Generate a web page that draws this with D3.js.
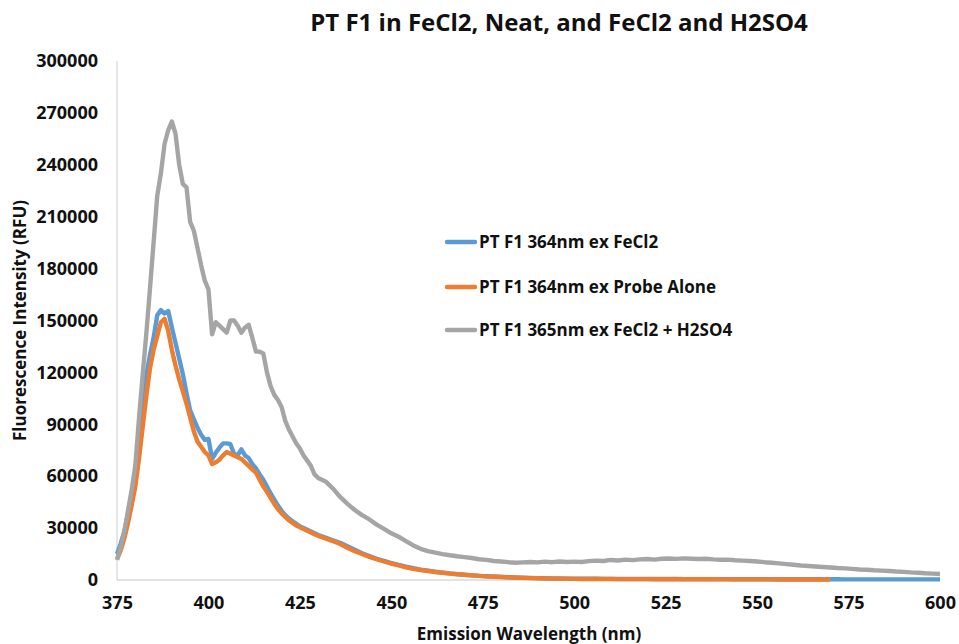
<!DOCTYPE html>
<html>
<head>
<meta charset="utf-8">
<script src="https://cdn.jsdelivr.net/npm/d3@7"></script>
<style>
  html, body { margin: 0; padding: 0; background: #fff; }
  svg { display: block; }
  text { font-family: "Open Sans", "Liberation Sans", sans-serif; font-weight: bold; fill: #111; }
</style>
</head>
<body>
<svg id="chart" width="959" height="644"></svg>
<script>
// ---------------- DATA ----------------
const title = "PT F1 in FeCl2, Neat, and FeCl2 and H2SO4";
const xTitle = "Emission Wavelength (nm)";
const yTitle = "Fluorescence Intensity (RFU)";
const seriesNames = ["PT F1 364nm ex FeCl2", "PT F1 364nm ex Probe Alone", "PT F1 365nm ex FeCl2 + H2SO4"];
const seriesColors = ["#5B9BD5", "#ED7D31", "#A5A5A5"];
const xTicks = [375, 400, 425, 450, 475, 500, 525, 550, 575, 600];
const yTicks = [0, 30000, 60000, 90000, 120000, 150000, 180000, 210000, 240000, 270000, 300000];

// wavelengths (nm): 1 nm steps 375-430, then 2 nm steps to 600
const wavelength = [
  375,376,377,378,379,380,381,382,383,384,385,386,387,388,389,390,391,392,393,394,
  395,396,397,398,399,400,401,402,403,404,405,406,407,408,409,410,411,412,413,414,
  415,416,417,418,419,420,421,422,423,424,425,426,427,428,429,430,
  432,434,436,438,440,442,444,446,448,450,452,454,456,458,460,462,464,466,468,470,
  472,474,476,478,480,482,484,486,488,490,492,494,496,498,500,502,504,506,508,510,
  512,514,516,518,520,522,524,526,528,530,532,534,536,538,540,542,544,546,548,550,
  552,554,556,558,560,562,564,566,568,570,572,574,576,578,580,582,584,586,588,590,
  592,594,596,598,600
];

const feCl2 = [
  15000,21000,28000,38000,50000,62000,80000,100000,118000,130000,140000,153000,156000,154000,155500,146000,137000,128000,119000,108000,
  98000,93000,88000,84000,81000,81500,70000,73500,76500,79000,79000,78500,73000,72000,75500,72000,70500,67000,64500,61000,
  58000,54000,50000,46500,43000,40000,37500,35500,34000,32500,31000,30000,29000,28000,27000,26000,
  24500,23000,21500,19500,17500,15500,13800,12200,11000,9800,8700,7700,6800,6000,5400,4800,4300,3800,3400,3000,
  2700,2400,2200,2000,1800,1600,1450,1300,1200,1100,1000,900,850,800,750,720,700,680,660,640,
  620,610,600,590,580,570,560,550,540,530,520,510,500,500,490,480,470,460,450,450,
  440,440,430,430,420,420,410,410,400,400,400,390,390,390,380,380,380,370,370,370,
  360,360,360,350,350
];

const probeAlone = [
  12000,17000,24000,33000,43000,54000,70000,88000,106000,122000,133000,141000,149000,151000,144000,133000,124000,116000,109000,102000,
  94000,86000,80000,77000,74000,72000,67000,68000,69500,72000,74000,73000,72000,71000,70000,68000,66000,64000,62000,58000,
  54000,51000,47500,44000,41000,38500,36500,34500,33000,31500,30500,29500,28500,27500,26500,25500,
  24000,22500,20800,18600,16600,15000,13400,12000,10700,9500,8400,7300,6400,5800,5200,4600,4200,3700,3300,3000,
  2700,2400,2100,1900,1700,1500,1350,1200,1100,1000,900,820,760,700,650,620,600,580,560,540,
  520,510,500,490,480,470,460,450,440,430,420,410,400,400,390,380,370,360,350,350,
  340,340,330,330,320,320,310,310,300,300,null,null,null,null,null,null,null,null,null,null,
  null,null,null,null,null
];

const feCl2H2SO4 = [
  11600,19000,28000,40000,52000,66000,93000,118000,142000,168000,195000,222000,235000,252000,260000,265000,258000,240000,229000,227000,
  207000,202000,192000,182000,173000,168000,142000,149000,147000,145000,143000,150000,150000,147000,143000,146000,147500,140000,132000,132000,
  131000,120000,112000,107000,104000,100000,92000,87000,83000,79000,76000,72000,69000,66000,61000,59000,
  57000,53000,48000,44000,40500,37500,35000,32000,29500,27000,25000,22500,20000,18000,16700,15800,15000,14300,13700,13200,
  12700,12000,11600,11000,10700,10300,10000,10200,10400,10200,10600,10300,10700,10400,10600,10400,10900,11200,11000,11600,
  11300,11800,11500,11900,12100,11800,12300,12400,12200,12500,12300,12100,12300,11900,11700,11800,11400,11200,11000,10700,
  10300,10000,9600,9200,8800,8400,8100,7800,7500,7200,6900,6700,6400,6100,5900,5600,5400,5200,4900,4700,
  4400,4200,3900,3700,3500
];

// ---------------- LAYOUT ----------------
const svg = d3.select("#chart");
const margin = { left: 117, right: 19, top: 61, bottom: 64 };
const W = 959, H = 644;

const x = d3.scaleLinear().domain([375, 600]).range([margin.left, W - margin.right]);
const y = d3.scaleLinear().domain([0, 300000]).range([H - margin.bottom, margin.top]);

// axis lines
svg.append("line")
  .attr("x1", x(375)).attr("x2", x(375))
  .attr("y1", y(300000)).attr("y2", y(0))
  .attr("stroke", "#D9D9D9").attr("stroke-width", 1.3);
svg.append("line")
  .attr("x1", x(375)).attr("x2", x(600))
  .attr("y1", y(0)).attr("y2", y(0))
  .attr("stroke", "#D9D9D9").attr("stroke-width", 1.3);

// Y axis (labels only)
const yAxis = d3.axisLeft(y).tickValues(yTicks).tickSize(0).tickPadding(19).tickFormat(d3.format("d"));
const gy = svg.append("g").attr("transform", `translate(${x(375)},0)`).call(yAxis);
gy.select(".domain").remove();
gy.selectAll("text").style("font-size", "18px").style("font-family", "'Open Sans', sans-serif").style("font-weight", "bold").attr("fill", "#111");

// X axis (labels only)
const xAxis = d3.axisBottom(x).tickValues(xTicks).tickSize(0).tickPadding(16).tickFormat(d3.format("d"));
const gx = svg.append("g").attr("transform", `translate(0,${y(0)})`).call(xAxis);
gx.select(".domain").remove();
gx.selectAll("text").style("font-size", "18px").style("font-family", "'Open Sans', sans-serif").style("font-weight", "bold").attr("fill", "#111");

// Lines
const allSeries = [feCl2, probeAlone, feCl2H2SO4];
const line = d3.line()
  .defined(d => d[1] != null)
  .x(d => x(d[0]))
  .y(d => y(d[1]));

allSeries.forEach((vals, i) => {
  const pts = wavelength.map((w, j) => [w, vals[j]]);
  svg.append("path")
    .datum(pts)
    .attr("d", line)
    .attr("fill", "none")
    .attr("stroke", seriesColors[i])
    .attr("stroke-width", 4.4)
    .attr("stroke-linejoin", "round")
    .attr("stroke-linecap", "butt");
});

// Title
svg.append("text")
  .attr("x", 559).attr("y", 31)
  .attr("text-anchor", "middle")
  .style("font-size", "24px")
  .text(title);

// Axis titles
svg.append("text")
  .attr("x", 529).attr("y", 640)
  .attr("text-anchor", "middle")
  .style("font-size", "17px")
  .text(xTitle);

svg.append("text")
  .attr("transform", `translate(26,${(y(0) + y(300000)) / 2 + 0}) rotate(-90)`)
  .attr("text-anchor", "middle")
  .style("font-size", "17px")
  .text(yTitle);

// Legend
const legendY = [242, 287, 330];
seriesNames.forEach((name, i) => {
  const g = svg.append("g").attr("transform", `translate(447,${legendY[i]})`);
  g.append("line")
    .attr("x1", 0).attr("x2", 28).attr("y1", 0).attr("y2", 0)
    .attr("stroke", seriesColors[i]).attr("stroke-width", 4.4).attr("stroke-linecap", "round");
  g.append("text")
    .attr("x", 32).attr("y", 6)
    .style("font-size", "17px")
    .text(name);
});
</script>
</body>
</html>
